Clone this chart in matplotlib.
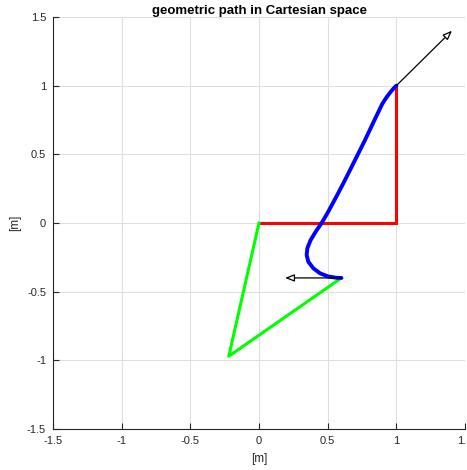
import numpy as np
import matplotlib
matplotlib.use("Agg")
import matplotlib.pyplot as plt

plt.rcParams['font.family'] = ['Liberation Sans', 'DejaVu Sans']

# straight segments of the path
red_x = [1.0, 1.0, 0.0]
red_y = [1.0, 0.0, 0.0]
green_x = [0.0, -0.22, 0.6]
green_y = [0.0, -0.97, -0.4]

# geometric path between (0.6,-0.4) and (1,1)
path_x = [0.600, 0.566, 0.505, 0.444, 0.396, 0.359, 0.347, 0.352, 0.376, 0.413,
          0.456, 0.498, 0.537, 0.576, 0.614, 0.660, 0.700, 0.735, 0.770, 0.808,
          0.841, 0.870, 0.899, 0.932, 0.963, 0.985, 1.000]
path_y = [-0.400, -0.399, -0.390, -0.366, -0.330, -0.282, -0.233, -0.184, -0.124, -0.063,
          0.000, 0.071, 0.143, 0.216, 0.289, 0.380, 0.460, 0.530, 0.600, 0.680,
          0.750, 0.810, 0.870, 0.920, 0.960, 0.985, 1.000]

# tangent vectors at the two ends
tan_start = (0.60, -0.40)
tan_start_vec = (-0.41, 0.0)
tan_end = (1.0, 1.0)
tan_end_vec = (0.405, 0.40)

ticks = [-1.5, -1, -0.5, 0, 0.5, 1, 1.5]
tick_labels = ['-1.5', '-1', '-0.5', '0', '0.5', '1', '1.5']

fig = plt.figure(figsize=(4.67, 4.70), dpi=100)
ax = fig.add_axes([53 / 467, 41 / 470, 412 / 467, 412 / 470])

ax.plot(red_x, red_y, color=(1, 0, 0), lw=2.2, solid_joinstyle='miter')
ax.plot(green_x, green_y, color=(0, 1, 0), lw=2.2)
ax.plot(path_x, path_y, color=(0, 0, 1), lw=2.8, solid_capstyle='round',
        solid_joinstyle='round')

for p, v in [(tan_start, tan_start_vec), (tan_end, tan_end_vec)]:
    ax.annotate('', xy=(p[0] + v[0], p[1] + v[1]), xytext=p,
                arrowprops=dict(arrowstyle='-|>,head_length=0.55,head_width=0.22',
                                fc='white', ec='black', lw=0.9,
                                shrinkA=0, shrinkB=0))

ax.set_xlim(-1.5, 1.5)
ax.set_ylim(-1.5, 1.5)
ax.set_xticks(ticks)
ax.set_xticklabels(tick_labels)
ax.set_yticks(ticks)
ax.set_yticklabels(tick_labels)

ax.grid(True, color='#dfdfdf', lw=0.8)
ax.set_axisbelow(True)
for s in ['top', 'right']:
    ax.spines[s].set_visible(False)
for s in ['left', 'bottom']:
    ax.spines[s].set_color('#262626')
    ax.spines[s].set_linewidth(0.8)
ax.tick_params(direction='in', length=4, width=0.8, colors='#262626',
               labelsize=8, pad=5)
for lab in ax.get_xticklabels() + ax.get_yticklabels():
    lab.set_clip_on(False)

ax.set_xlabel('[m]', fontsize=8.5, color='#262626', labelpad=5)
ax.set_ylabel('[m]', fontsize=8.5, color='#262626', labelpad=4)
ax.set_title('geometric path in Cartesian space', fontsize=9.5,
             fontweight='bold', pad=2)

fig.savefig('out.png', dpi=100)
